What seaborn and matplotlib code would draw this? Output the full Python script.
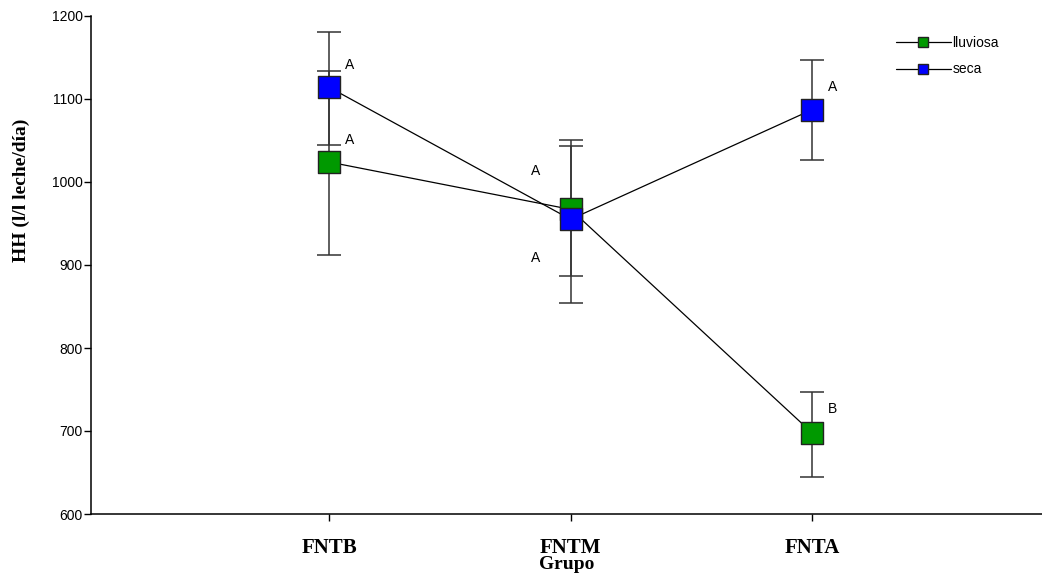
import numpy as np
import pandas as pd
import seaborn as sns
import matplotlib.pyplot as plt
from matplotlib.lines import Line2D

grupos = ['FNTB', 'FNTM', 'FNTA']
epocas = ['lluviosa', 'seca']

lluviosa = [1024, 967, 698]
lluviosa_lo = [912, 887, 644]
lluviosa_hi = [1134, 1051, 747]
lluviosa_letras = ['A', 'A', 'B']

seca = [1114, 955, 1087]
seca_lo = [1044, 854, 1027]
seca_hi = [1181, 1043, 1147]
seca_letras = ['A', 'A', 'A']

colores = {'lluviosa': '#009900', 'seca': '#0000ff'}

sns.set_style('ticks')
plt.rcParams['font.family'] = ['Liberation Sans', 'DejaVu Sans']
plt.rcParams['text.color'] = 'black'
plt.rcParams['axes.labelcolor'] = 'black'
plt.rcParams['xtick.color'] = 'black'
plt.rcParams['ytick.color'] = 'black'
plt.rcParams['axes.edgecolor'] = 'black'

pos = np.arange(len(grupos))
df = pd.DataFrame({
    'x': np.concatenate([pos, pos]),
    'hh': lluviosa + seca,
    'lo': lluviosa_lo + seca_lo,
    'hi': lluviosa_hi + seca_hi,
    'epoca': ['lluviosa'] * 3 + ['seca'] * 3,
})

fig = plt.figure(figsize=(10.42, 5.74), dpi=100)
ax = fig.add_axes([91 / 1042, 60 / 574, 951 / 1042, 498 / 574])

# lineas negras que unen los puntos
sns.lineplot(data=df, x='x', y='hh', hue='epoca', palette={'lluviosa': 'black', 'seca': 'black'},
             linewidth=0.9, legend=False, ax=ax, zorder=1)

# barras de error
ax.errorbar(df['x'], df['hh'], yerr=[df['hh'] - df['lo'], df['hi'] - df['hh']], fmt='none',
            ecolor='#333333', elinewidth=1.1, capsize=8.3, capthick=1.1, zorder=2)

# marcadores
sns.scatterplot(data=df, x='x', y='hh', hue='epoca', palette=colores, marker='s', s=250,
                edgecolor='#222222', linewidth=1, legend=False, ax=ax, zorder=3)

# letras de significancia
offs = {'lluviosa': [(0.085, 27), (-0.145, 46), (0.085, 28)],
        'seca': [(0.085, 27), (-0.145, -47), (0.085, 27)]}
for ep, vals, letras in [('lluviosa', lluviosa, lluviosa_letras), ('seca', seca, seca_letras)]:
    for i, (v, l) in enumerate(zip(vals, letras)):
        dx, dy = offs[ep][i]
        ax.text(pos[i] + dx, v + dy, l, fontsize=10, ha='center', va='center')

ax.set_xlim(-0.988, 2.954)
ax.set_ylim(600, 1200)
ax.set_yticks(range(600, 1201, 100))
ax.set_xticks(pos)
ax.set_xticklabels(grupos, family='Liberation Serif', fontweight='bold', fontsize=15)
ax.tick_params(axis='y', labelsize=10, length=5, width=1, pad=1)
ax.tick_params(axis='x', length=5, width=1, pad=12)
ax.set_xlabel('Grupo', family='Liberation Serif', fontweight='bold', fontsize=14, labelpad=-1)
ax.set_ylabel('HH (l/l leche/día)', family='Liberation Serif', fontweight='bold', fontsize=14)
ax.yaxis.set_label_coords(-0.064, 0.65)
for s in ['left', 'bottom']:
    ax.spines[s].set_linewidth(1.1)
sns.despine(ax=ax)

handles = [Line2D([], [], color='black', lw=0.9, marker='s', ms=7, mfc=colores[e], mec='#222222')
           for e in epocas]
ax.legend(handles, epocas, loc='upper right', bbox_to_anchor=(0.968, 0.985), frameon=False,
          fontsize=10, handlelength=4.0, handletextpad=0.1, labelspacing=0.9)

fig.savefig('out.png', dpi=100)
